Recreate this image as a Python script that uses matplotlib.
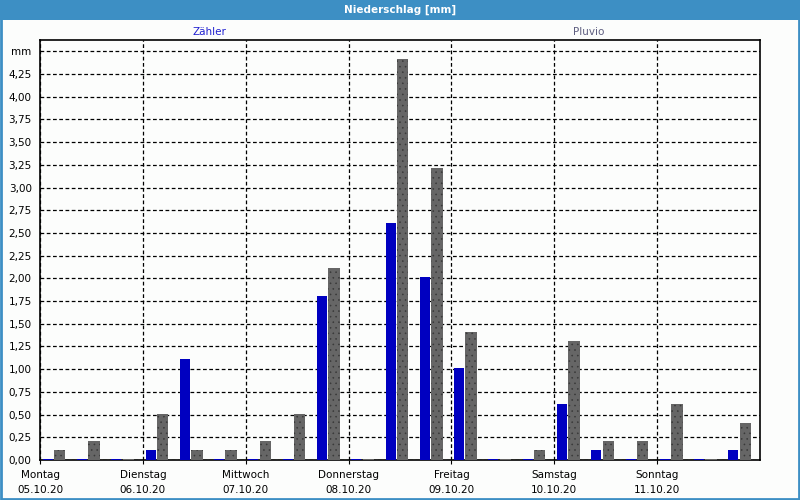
import matplotlib.pyplot as plt
from matplotlib.patches import Rectangle

# 8-hour slots, 3 per day, Monday 05.10.20 to Sunday 11.10.20
days = ["Montag", "Dienstag", "Mittwoch", "Donnerstag", "Freitag", "Samstag", "Sonntag"]
dates = ["05.10.20", "06.10.20", "07.10.20", "08.10.20", "09.10.20", "10.10.20", "11.10.20"]

zaehler = [0.015, 0.015, 0.015,
           0.11, 1.11, 0.015,
           0.015, 0.015, 1.81,
           0.015, 2.61, 2.02,
           1.01, 0.015, 0.015,
           0.62, 0.11, 0.015,
           0.015, 0.015, 0.11]
pluvio = [0.11, 0.21, 0.015,
          0.51, 0.11, 0.11,
          0.21, 0.51, 2.11,
          0.015, 4.42, 3.22,
          1.41, 0.015, 0.11,
          1.31, 0.21, 0.21,
          0.62, 0.015, 0.41]

yticks = [0.25 * k for k in range(19)]
ylabels = [("%.2f" % v).replace(".", ",") for v in yticks[:-1]] + ["mm"]

blue = "#0000c0"
grey = "#666666"
frame_blue = "#3d8fc4"
bg = "#fcfdfc"

plt.rcParams["hatch.linewidth"] = 0.4

fig = plt.figure(figsize=(8, 5), dpi=100, facecolor=bg)

# title bar and window border
fig.patches.append(Rectangle((0, 0.96), 1, 0.04, transform=fig.transFigure,
                             facecolor=frame_blue, edgecolor="none"))
fig.patches.append(Rectangle((0.001, 0.002), 0.998, 0.996, transform=fig.transFigure,
                             facecolor="none", edgecolor=frame_blue, linewidth=2))
fig.text(0.5, 0.98, "Niederschlag [mm]", color="white", fontsize=7.5,
         fontweight="bold", ha="center", va="center")

ax = fig.add_axes([0.05, 0.08, 0.9, 0.84], facecolor=bg)

n = len(zaehler)
x = list(range(n))
ax.bar([i + 0.08 for i in x], zaehler, width=0.29, align="edge",
       color=blue, linewidth=0, zorder=3)
ax.bar([i + 0.41 for i in x], pluvio, width=0.33, align="edge",
       color=grey, edgecolor="#383838", linewidth=0, hatch="...", zorder=3)

ax.set_xlim(0, n)
ax.set_ylim(0, 4.625)

ax.set_yticks(yticks)
ax.set_yticklabels(ylabels, fontsize=7.5)
ax.tick_params(axis="y", length=0, pad=6)

day_pos = [3 * k for k in range(len(days))]
ax.set_xticks(day_pos)
ax.set_xticklabels([d + "\n" + t for d, t in zip(days, dates)], fontsize=7.5,
                   linespacing=1.6)
ax.tick_params(axis="x", length=3, pad=4)

ax.grid(True, color="black", linestyle=(0, (3, 2)), linewidth=0.9, zorder=1)
ax.set_axisbelow(True)
for s in ax.spines.values():
    s.set_color("black")
    s.set_linewidth(1.2)

fig.text(209 / 800, 1 - 32 / 500, "Zähler", color="#2020d0", fontsize=7.5,
         ha="center", va="center")
fig.text(589 / 800, 1 - 32 / 500, "Pluvio", color="#5e5e80", fontsize=7.5,
         ha="center", va="center")

fig.savefig("out.png", dpi=100, facecolor=bg)
